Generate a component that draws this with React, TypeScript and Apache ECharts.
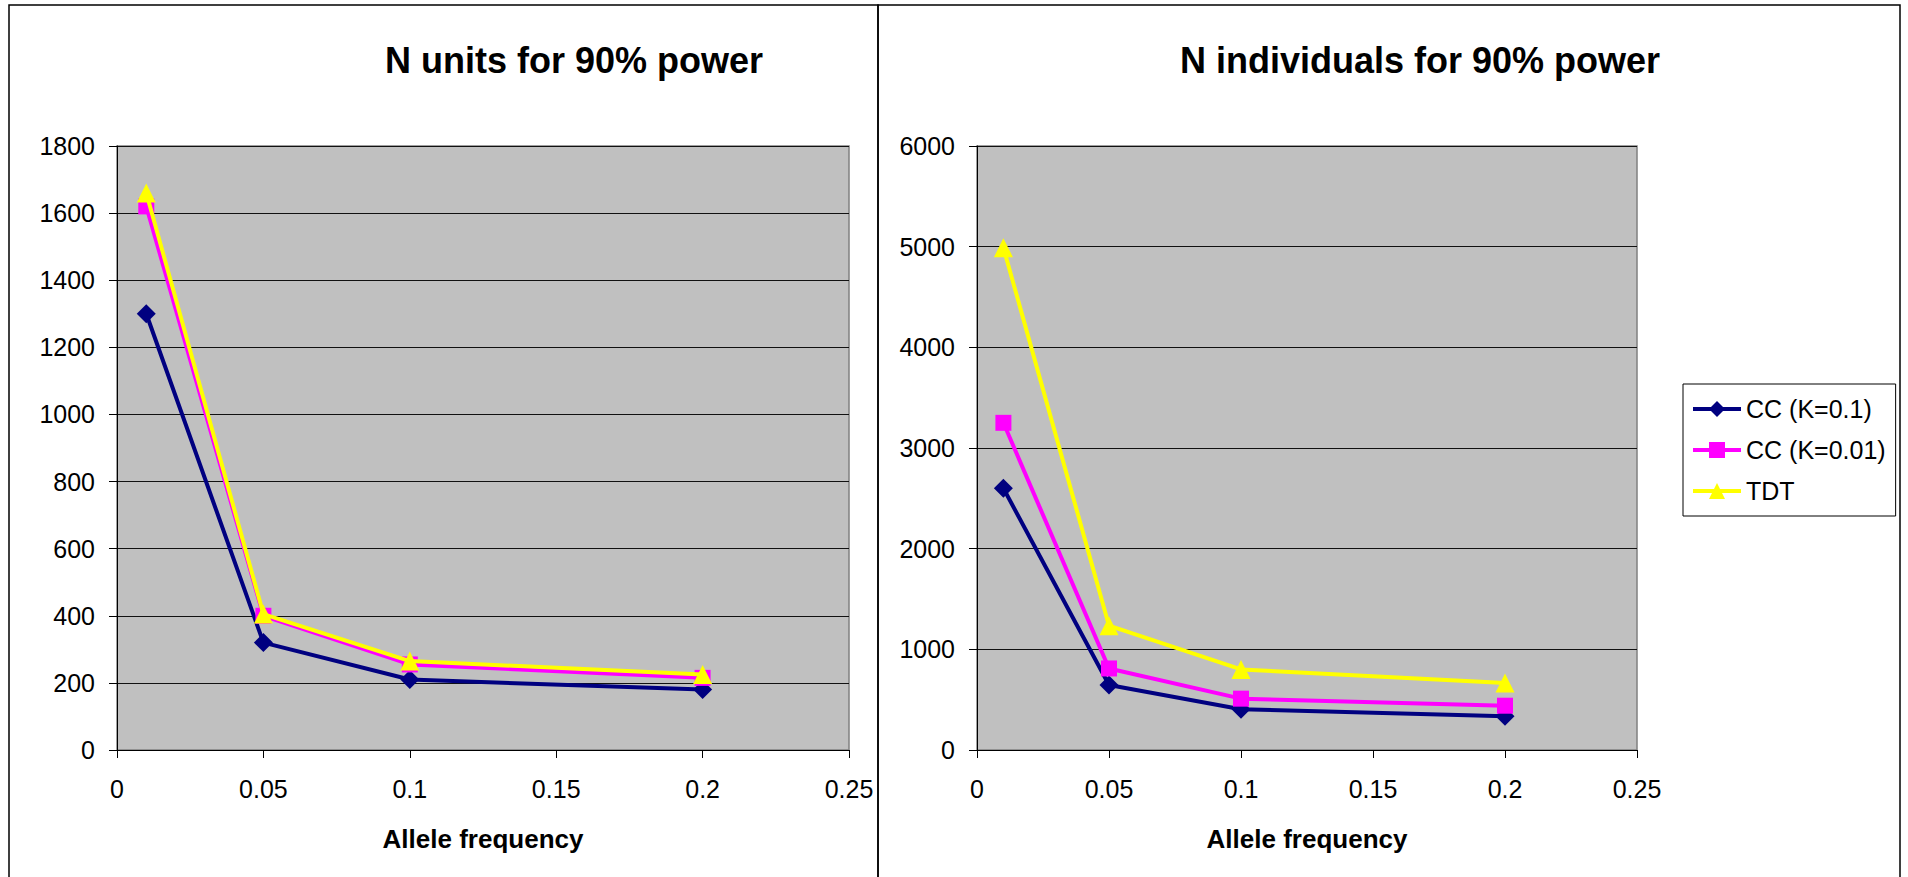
import React, { useEffect, useRef } from "react";
import * as echarts from "echarts";

const FONT = "'Liberation Sans', Arial, sans-serif";

const alleleFreq = [0.01, 0.05, 0.1, 0.2];
const seriesNames = ["CC (K=0.1)", "CC (K=0.01)", "TDT"];

// N units for 90% power
const unitsCC01 = [1300, 320, 210, 180];
const unitsCC001 = [1620, 400, 255, 215];
const unitsTDT = [1660, 405, 265, 225];

// N individuals for 90% power
const indivCC01 = [2600, 645, 405, 335];
const indivCC001 = [3250, 810, 510, 440];
const indivTDT = [4990, 1235, 800, 665];

const titles = ["N units for 90% power", "N individuals for 90% power"];
const xAxisName = "Allele frequency";

const colors = ["#000080", "#FF00FF", "#FFFF00"];
const symbols = ["diamond", "rect", "triangle"];

export default function App() {
  const ref = useRef<HTMLDivElement>(null);

  useEffect(() => {
    if (!ref.current) return;
    const chart = echarts.init(ref.current, null, { renderer: "svg" });

    const grids = [
      { left: 117, top: 146, width: 732, height: 604 },
      { left: 977, top: 146, width: 660, height: 604 },
    ];

    const xAxis = grids.map((_, i) => ({
      type: "value",
      gridIndex: i,
      min: 0,
      max: 0.25,
      interval: 0.05,
      name: xAxisName,
      nameLocation: "middle",
      nameGap: 76,
      nameTextStyle: { fontFamily: FONT, fontSize: 26, fontWeight: "bold", color: "#000" },
      axisLine: { show: true, lineStyle: { color: "#000", width: 1 } },
      axisTick: { show: true, length: 8, lineStyle: { color: "#000" } },
      axisLabel: {
        fontFamily: FONT,
        fontSize: 25,
        color: "#000",
        margin: 26,
        formatter: (v: number) => String(v),
      },
      splitLine: { show: false },
    }));

    const yAxis = [
      { max: 1800, interval: 200 },
      { max: 6000, interval: 1000 },
    ].map((a, i) => ({
      type: "value",
      gridIndex: i,
      min: 0,
      max: a.max,
      interval: a.interval,
      axisLine: { show: true, lineStyle: { color: "#000", width: 1 } },
      axisTick: { show: true, length: 8, lineStyle: { color: "#000" } },
      axisLabel: {
        fontFamily: FONT,
        fontSize: 25,
        color: "#000",
        margin: 22,
        formatter: (v: number) => String(v),
      },
      splitLine: { show: true, lineStyle: { color: "#111", width: 1 } },
    }));

    const makeSeries = (data: number[][], gi: number) =>
      data.map((vals, k) => ({
        type: "line",
        name: seriesNames[k],
        xAxisIndex: gi,
        yAxisIndex: gi,
        data: alleleFreq.map((x, j) => [x, vals[j]]),
        symbol: symbols[k],
        symbolSize: k === 1 ? 16 : 19,
        lineStyle: { color: colors[k], width: 4 },
        itemStyle: { color: colors[k] },
        z: 2 + k,
      }));

    const series = [
      ...makeSeries([unitsCC01, unitsCC001, unitsTDT], 0),
      ...makeSeries([indivCC01, indivCC001, indivTDT], 1),
    ];

    chart.setOption({
      animation: false,
      backgroundColor: "#fff",
      title: [
        {
          text: titles[0],
          left: 574,
          top: 42,
          textAlign: "center",
          padding: 0,
          textStyle: { fontFamily: FONT, fontSize: 36, fontWeight: "bold", color: "#000" },
        },
        {
          text: titles[1],
          left: 1420,
          top: 42,
          textAlign: "center",
          padding: 0,
          textStyle: { fontFamily: FONT, fontSize: 36, fontWeight: "bold", color: "#000" },
        },
      ],
      grid: grids.map((g) => ({
        ...g,
        show: true,
        backgroundColor: "#C0C0C0",
        borderColor: "#808080",
        borderWidth: 1.5,
      })),
      xAxis,
      yAxis,
      legend: {
        data: seriesNames,
        orient: "vertical",
        left: 1683,
        top: 384,
        padding: [12, 10, 12, 8],
        itemWidth: 48,
        itemHeight: 20,
        itemGap: 15,
        borderColor: "#000",
        borderWidth: 1,
        backgroundColor: "#fff",
        lineStyle: { width: 4 },
        textStyle: { fontFamily: FONT, fontSize: 25, lineHeight: 26, color: "#000" },
      },
      graphic: [
        {
          type: "rect",
          shape: { x: 9, y: 5, width: 869, height: 900 },
          style: { fill: "none", stroke: "#000", lineWidth: 1.5 },
          silent: true,
          z: 100,
        },
        {
          type: "rect",
          shape: { x: 878, y: 5, width: 1022, height: 900 },
          style: { fill: "none", stroke: "#000", lineWidth: 1.5 },
          silent: true,
          z: 100,
        },
      ],
      series,
    });

    return () => chart.dispose();
  }, []);

  return (
    <div
      ref={ref}
      style={{ position: "fixed", left: 0, top: 0, width: 1908, height: 877 }}
    />
  );
}
